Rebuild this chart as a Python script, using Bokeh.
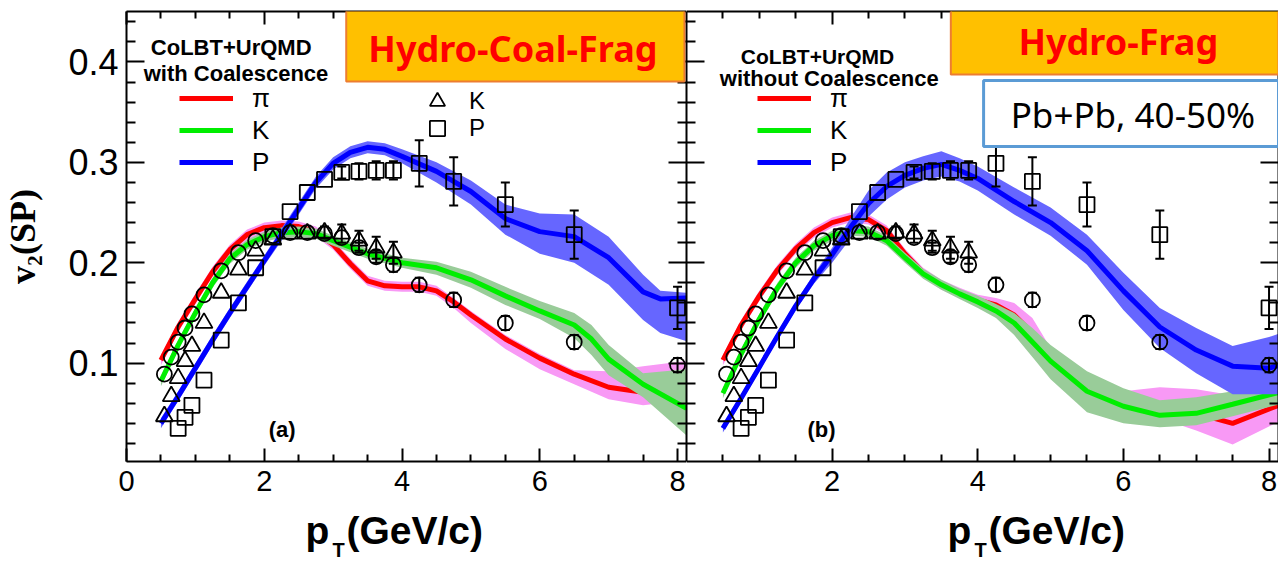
from bokeh.plotting import figure
from bokeh.layouts import row, column
from bokeh.models import (ColumnDataSource, Whisker, TeeHead, LinearAxis, FixedTicker,
                          Range1d, Label, BoxAnnotation, Legend, LegendItem)
from bokeh.embed import file_html
from bokeh.resources import INLINE

# ---------------- data (ALICE Pb+Pb 40-50%, v2{SP}) ----------------
pi_x = [0.55, 0.65, 0.75, 0.85, 0.95, 1.125, 1.375, 1.625, 1.875, 2.125, 2.375, 2.625, 2.875,
        3.125, 3.375, 3.625, 3.875, 4.25, 4.75, 5.5, 6.5, 8.0]
pi_v2 = [0.089, 0.106, 0.121, 0.135, 0.149, 0.168, 0.192, 0.210, 0.222, 0.227, 0.230, 0.230, 0.229,
         0.225, 0.215, 0.206, 0.198, 0.178, 0.163, 0.140, 0.121, 0.098]
pi_err = [0.002, 0.002, 0.002, 0.002, 0.002, 0.002, 0.002, 0.002, 0.002, 0.002, 0.003, 0.003, 0.003,
          0.004, 0.005, 0.006, 0.007, 0.007, 0.007, 0.007, 0.007, 0.007]

k_x = [0.55, 0.65, 0.75, 0.85, 0.95, 1.125, 1.375, 1.625, 1.875, 2.125, 2.375, 2.625, 2.875,
       3.125, 3.375, 3.625, 3.875]
k_v2 = [0.047, 0.067, 0.085, 0.102, 0.117, 0.140, 0.170, 0.193, 0.212, 0.223, 0.229, 0.229, 0.230,
        0.229, 0.222, 0.215, 0.210]
k_err = [0.002, 0.002, 0.002, 0.002, 0.002, 0.002, 0.002, 0.002, 0.002, 0.003, 0.003, 0.004, 0.006,
         0.009, 0.010, 0.011, 0.011]

p_x = [0.75, 0.85, 0.95, 1.125, 1.375, 1.625, 1.875, 2.125, 2.375, 2.625, 2.875, 3.125, 3.375,
       3.625, 3.875, 4.25, 4.75, 5.5, 6.5, 8.0]
p_v2 = [0.035, 0.046, 0.058, 0.083, 0.123, 0.160, 0.195, 0.226, 0.251, 0.270, 0.283, 0.290, 0.291,
        0.292, 0.292, 0.299, 0.281, 0.258, 0.228, 0.155]
p_err = [0.002, 0.002, 0.002, 0.002, 0.002, 0.002, 0.002, 0.003, 0.003, 0.003, 0.004, 0.006, 0.008,
         0.009, 0.009, 0.023, 0.024, 0.022, 0.024, 0.021]

# ---------------- CoLBT+UrQMD with coalescence (panel a) ----------------
a_pi_x = [0.5, 0.75, 1.0, 1.25, 1.5, 1.75, 2.0, 2.25, 2.5, 2.75, 3.0, 3.25, 3.5, 3.75, 4.0, 4.25,
          4.5, 4.75, 5.0, 5.5, 6.0, 6.5, 7.0, 7.5, 8.0, 8.13]
a_pi_y = [0.103, 0.136, 0.164, 0.191, 0.213, 0.228, 0.235, 0.237, 0.236, 0.231, 0.218, 0.199, 0.182,
          0.177, 0.176, 0.176, 0.172, 0.161, 0.148, 0.124, 0.105, 0.089, 0.076, 0.071, 0.078, 0.080]
a_pi_lo = [0.098, 0.131, 0.159, 0.186, 0.208, 0.223, 0.230, 0.232, 0.231, 0.226, 0.213, 0.194, 0.177,
           0.172, 0.171, 0.171, 0.167, 0.155, 0.140, 0.114, 0.094, 0.079, 0.064, 0.058, 0.062, 0.064]
a_pi_hi = [0.108, 0.141, 0.169, 0.196, 0.218, 0.233, 0.240, 0.242, 0.241, 0.236, 0.223, 0.204, 0.187,
           0.182, 0.181, 0.181, 0.177, 0.165, 0.152, 0.128, 0.109, 0.093, 0.092, 0.097, 0.101, 0.102]

a_k_x = [0.5, 0.75, 1.0, 1.25, 1.5, 1.75, 2.0, 2.25, 2.5, 2.75, 3.0, 3.5, 4.0, 4.5, 5.0, 5.5, 6.0,
         6.5, 6.75, 7.0, 7.5, 8.13]
a_k_y = [0.082, 0.118, 0.150, 0.180, 0.204, 0.218, 0.226, 0.230, 0.231, 0.229, 0.222, 0.209, 0.200,
         0.195, 0.183, 0.167, 0.152, 0.138, 0.124, 0.104, 0.079, 0.055]
a_k_lo = [0.077, 0.113, 0.145, 0.175, 0.199, 0.213, 0.221, 0.225, 0.226, 0.224, 0.217, 0.204, 0.195,
          0.188, 0.175, 0.158, 0.144, 0.125, 0.108, 0.088, 0.066, 0.028]
a_k_hi = [0.087, 0.123, 0.155, 0.185, 0.209, 0.223, 0.231, 0.235, 0.236, 0.234, 0.227, 0.214, 0.205,
          0.201, 0.191, 0.176, 0.162, 0.150, 0.138, 0.118, 0.090, 0.094]

a_p_x = [0.5, 0.75, 1.0, 1.25, 1.5, 1.75, 2.0, 2.25, 2.5, 2.75, 3.0, 3.25, 3.5, 3.75, 4.0, 4.5, 5.0,
         5.5, 6.0, 6.5, 7.0, 7.5, 7.75, 8.13]
a_p_y = [0.040, 0.067, 0.095, 0.123, 0.150, 0.176, 0.202, 0.228, 0.254, 0.280, 0.299, 0.310, 0.315,
         0.313, 0.306, 0.291, 0.271, 0.244, 0.231, 0.226, 0.205, 0.171, 0.164, 0.165]
a_p_lo = [0.035, 0.062, 0.090, 0.118, 0.145, 0.171, 0.197, 0.222, 0.248, 0.274, 0.293, 0.304, 0.309,
          0.307, 0.299, 0.280, 0.258, 0.228, 0.209, 0.200, 0.178, 0.143, 0.130, 0.122]
a_p_hi = [0.045, 0.072, 0.100, 0.128, 0.155, 0.181, 0.207, 0.234, 0.260, 0.286, 0.305, 0.316, 0.321,
          0.319, 0.313, 0.300, 0.282, 0.258, 0.249, 0.248, 0.226, 0.188, 0.172, 0.170]

# ---------------- CoLBT+UrQMD without coalescence (panel b) ----------------
b_x = [0.5, 0.75, 1.0, 1.25, 1.5, 1.75, 2.0, 2.25, 2.5, 2.75, 3.0, 3.25, 3.5, 3.75, 4.0, 4.25,
       4.5, 4.75, 5.0, 5.5, 6.0, 6.5, 7.0, 7.5, 8.2]
b_pi_y = [0.103, 0.138, 0.167, 0.193, 0.214, 0.230, 0.240, 0.245, 0.243, 0.232, 0.209, 0.190, 0.178,
          0.170, 0.163, 0.158, 0.148, 0.130, 0.108, 0.078, 0.064, 0.059, 0.050, 0.040, 0.060]
b_pi_lo = [0.098, 0.133, 0.162, 0.188, 0.209, 0.225, 0.235, 0.240, 0.238, 0.227, 0.204, 0.185, 0.173,
           0.165, 0.158, 0.150, 0.138, 0.120, 0.098, 0.068, 0.052, 0.045, 0.033, 0.019, 0.044]
b_pi_hi = [0.108, 0.143, 0.172, 0.198, 0.219, 0.235, 0.245, 0.250, 0.248, 0.237, 0.214, 0.195, 0.183,
           0.175, 0.168, 0.165, 0.160, 0.145, 0.115, 0.085, 0.072, 0.076, 0.074, 0.068, 0.070]
b_k_y = [0.070, 0.109, 0.144, 0.175, 0.200, 0.217, 0.227, 0.232, 0.231, 0.222, 0.205, 0.189, 0.178,
         0.169, 0.161, 0.152, 0.140, 0.121, 0.102, 0.072, 0.057, 0.048, 0.050, 0.059, 0.072]
b_k_lo = [0.065, 0.104, 0.139, 0.170, 0.195, 0.212, 0.222, 0.227, 0.226, 0.217, 0.200, 0.184, 0.173,
          0.164, 0.155, 0.145, 0.128, 0.106, 0.084, 0.051, 0.040, 0.036, 0.038, 0.047, 0.060]
b_k_hi = [0.075, 0.114, 0.149, 0.180, 0.205, 0.222, 0.232, 0.237, 0.236, 0.227, 0.210, 0.194, 0.183,
          0.174, 0.167, 0.159, 0.150, 0.135, 0.118, 0.092, 0.075, 0.063, 0.066, 0.072, 0.082]

b_p_x = [0.5, 0.75, 1.0, 1.25, 1.5, 1.75, 2.0, 2.25, 2.5, 2.75, 3.0, 3.25, 3.5, 3.75, 4.0, 4.5, 5.0,
         5.5, 6.0, 6.5, 7.0, 7.5, 8.0, 8.2]
b_p_y = [0.035, 0.065, 0.096, 0.127, 0.157, 0.184, 0.208, 0.235, 0.259, 0.276, 0.287, 0.294, 0.298,
         0.292, 0.284, 0.261, 0.240, 0.212, 0.172, 0.136, 0.113, 0.097, 0.095, 0.099]
b_p_lo = [0.031, 0.061, 0.092, 0.123, 0.153, 0.179, 0.200, 0.224, 0.246, 0.263, 0.275, 0.282, 0.286,
          0.281, 0.272, 0.248, 0.227, 0.198, 0.153, 0.115, 0.090, 0.069, 0.069, 0.069]
b_p_hi = [0.039, 0.069, 0.100, 0.131, 0.161, 0.189, 0.215, 0.244, 0.272, 0.290, 0.300, 0.306, 0.311,
          0.304, 0.296, 0.275, 0.255, 0.228, 0.190, 0.155, 0.135, 0.117, 0.126, 0.131]

# ---------------- axes ----------------
x_ticks_a = [0, 2, 4, 6, 8]
x_ticks_b = [2, 4, 6, 8]
x_minor = [0.5, 1, 1.5, 2.5, 3, 3.5, 4.5, 5, 5.5, 6.5, 7, 7.5, 8.5]
y_ticks = [0.1, 0.2, 0.3, 0.4]
y_minor = [0.02, 0.04, 0.06, 0.08, 0.12, 0.14, 0.16, 0.18, 0.22, 0.24, 0.26, 0.28,
           0.32, 0.34, 0.36, 0.38, 0.42, 0.44]

RED, GREEN, BLUE = "#FF0000", "#00EE00", "#0000FF"
PINK, SAGE, LBLUE = "#F899F5", "#99CC99", "#6666FF"
SANS = "Liberation Sans"
H = 501
ERR_VISIBLE = 0.005   # error bars smaller than this are hidden inside the markers


def style_axis(ax, is_x, labels=True, size="29px", ticks=None):
    ax.axis_line_width = 2
    ax.axis_line_color = "black"
    ax.major_tick_line_width = 2
    ax.minor_tick_line_width = 2
    ax.major_tick_out = 0
    ax.minor_tick_out = 0
    if is_x:
        ax.major_tick_in = 13
        ax.minor_tick_in = 7
    else:
        ax.major_tick_in = 18
        ax.minor_tick_in = 9
    if labels:
        ax.major_label_text_font = SANS
        ax.major_label_text_font_size = size
        ax.major_label_text_color = "black"
    else:
        ax.major_label_overrides = {float(t): "" for t in ticks}
        ax.major_label_text_font_size = "0px"
        ax.major_label_standoff = 0


def make_panel(width, xmax, xticks, left_border, curves, panel_tag, tag_x):
    p = figure(width=width, height=H, output_backend="svg", toolbar_location=None,
               x_range=Range1d(0, xmax), y_range=Range1d(0.002, 0.4503),
               min_border_left=left_border, min_border_right=0, min_border_top=11,
               min_border_bottom=40, background_fill_color="white",
               border_fill_color="white")
    p.grid.visible = False
    p.outline_line_color = None

    p.xaxis.ticker = FixedTicker(ticks=xticks, minor_ticks=x_minor)
    p.yaxis.ticker = FixedTicker(ticks=y_ticks, minor_ticks=y_minor)
    style_axis(p.xaxis[0], True, True, "29px")
    p.xaxis[0].major_label_standoff = 9
    if left_border > 0:
        style_axis(p.yaxis[0], False, True, "36px")
        p.yaxis[0].major_label_standoff = 8
    else:
        style_axis(p.yaxis[0], False, False, ticks=y_ticks)

    top = LinearAxis(ticker=FixedTicker(ticks=xticks, minor_ticks=x_minor))
    style_axis(top, True, False, ticks=xticks)
    p.add_layout(top, "above")
    right = LinearAxis(ticker=FixedTicker(ticks=y_ticks, minor_ticks=y_minor))
    style_axis(right, False, False, ticks=y_ticks)
    p.add_layout(right, "right")

    (pix, piy, pilo, pihi), (kx, ky, klo, khi), (px_, py_, plo, phi) = curves
    p.varea(x=pix, y1=pilo, y2=pihi, fill_color=PINK)
    r_pi = p.line(pix, piy, line_color=RED, line_width=5)
    p.varea(x=kx, y1=klo, y2=khi, fill_color=SAGE)
    r_k = p.line(kx, ky, line_color=GREEN, line_width=5)
    p.varea(x=px_, y1=plo, y2=phi, fill_color=LBLUE)
    r_p = p.line(px_, py_, line_color=BLUE, line_width=5)

    markers = {}
    for name, xs, ys, es, mk, sz in [("pi", pi_x, pi_v2, pi_err, "circle", 15),
                                     ("K", k_x, k_v2, k_err, "triangle", 17),
                                     ("P", p_x, p_v2, p_err, "square", 15)]:
        sel = [i for i, e in enumerate(es) if e >= ERR_VISIBLE]
        esrc = ColumnDataSource(dict(x=[xs[i] for i in sel],
                                     lo=[ys[i] - es[i] for i in sel],
                                     hi=[ys[i] + es[i] for i in sel]))
        p.add_layout(Whisker(source=esrc, base="x", lower="lo", upper="hi",
                             line_color="black", line_width=2, level="glyph",
                             upper_head=TeeHead(size=9, line_width=2, line_color="black"),
                             lower_head=TeeHead(size=9, line_width=2, line_color="black")))
        src = ColumnDataSource(dict(x=xs, y=ys))
        markers[name] = p.scatter("x", "y", source=src, marker=mk, size=sz,
                                  fill_color=None, line_color="black", line_width=1.8)

    p.add_layout(Label(x=tag_x, y=0.0336, text=panel_tag, text_font=SANS,
                       text_font_size="22px", text_font_style="bold", text_color="black",
                       text_align="center", text_baseline="alphabetic"))
    return p, (r_pi, r_k, r_p), markers


def legend_box(items, loc, gw, gh, standoff, fsize):
    return Legend(items=items, location=loc, orientation="vertical",
                  glyph_width=gw, glyph_height=gh, label_height=gh, spacing=0,
                  padding=0, margin=0, label_standoff=standoff, label_text_font=SANS,
                  label_text_font_size=fsize, label_text_color="black",
                  label_text_baseline="middle",
                  background_fill_alpha=0, border_line_alpha=0)


def line_legend(p, rends, xloc):
    items = [LegendItem(label=t, renderers=[r]) for t, r in zip(["π", "K", "P"], rends)]
    p.add_layout(legend_box(items, (xloc, 283), 54, 32, 19, "26px"))


def text(p, x, y, s, size, bold=True, color="black", font=SANS, align="center"):
    p.add_layout(Label(x=x, y=y, text=s, text_font=font, text_font_size=size,
                       text_font_style=("bold" if bold else "normal"), text_color=color,
                       text_align=align, text_baseline="alphabetic"))


# ---------------- panel (a) ----------------
pa, ra, ma = make_panel(686, 8.13, x_ticks_a, 126,
                        [(a_pi_x, a_pi_y, a_pi_lo, a_pi_hi), (a_k_x, a_k_y, a_k_lo, a_k_hi),
                         (a_p_x, a_p_y, a_p_lo, a_p_hi)], "(a)", 2.26)
pa.yaxis[0].axis_label = "v₂(SP)"
pa.yaxis[0].axis_label_text_font = "Liberation Serif"
pa.yaxis[0].axis_label_text_font_style = "bold"
pa.yaxis[0].axis_label_text_font_size = "36px"
pa.yaxis[0].axis_label_text_color = "black"
pa.yaxis[0].axis_label_standoff = 22
line_legend(pa, ra, 53)
pa.add_layout(legend_box([LegendItem(label="K", renderers=[ma["K"]])], (292, 341), 38, 38, 13, "24px"))
pa.add_layout(legend_box([LegendItem(label="P", renderers=[ma["P"]])], (292, 314), 38, 38, 13, "24px"))
text(pa, 1.52, 0.4145, "CoLBT+UrQMD", "22px")
text(pa, 1.59, 0.3886, "with Coalescence", "22px")
pa.add_layout(BoxAnnotation(left=3.19, right=8.10, bottom=0.3805, top=0.4513,
                            fill_color="#FFC000", fill_alpha=1, line_color="#ED7D31",
                            line_width=2, line_alpha=1))
text(pa, 5.61, 0.4135, "Hydro-Coal-Frag", "36px", color="#FF0000", font="Noto Sans")

# ---------------- panel (b) ----------------
pb, rb, mb = make_panel(592, 8.13, x_ticks_b, 0,
                        [(b_x, b_pi_y, b_pi_lo, b_pi_hi), (b_x, b_k_y, b_k_lo, b_k_hi),
                         (b_p_x, b_p_y, b_p_lo, b_p_hi)], "(b)", 1.855)
line_legend(pb, rb, 71)
text(pb, 1.80, 0.4055, "CoLBT+UrQMD", "21px")
text(pb, 1.96, 0.3836, "without Coalescence", "22px")
pb.add_layout(BoxAnnotation(left=3.63, bottom=0.3875, top=0.4573, fill_color="#FFC000",
                            fill_alpha=1, line_color="#ED7D31", line_width=2, line_alpha=1))
text(pb, 5.93, 0.4205, "Hydro-Frag", "36px", color="#FF0000", font="Noto Sans")
pb.add_layout(BoxAnnotation(left=4.08, bottom=0.3158, top=0.3815, fill_color="white",
                            fill_alpha=1, line_color="#5B9BD5", line_width=3, line_alpha=1))
text(pb, 6.13, 0.3477, "Pb+Pb, 40-50%", "35px", bold=False, font="Noto Sans")

# ---------------- x-axis titles (strip below both panels, pixel coordinates) ----------------
strip = figure(width=1278, height=60, output_backend="svg", toolbar_location=None,
               title=None, x_range=Range1d(0, 1278), y_range=Range1d(0, 60),
               x_axis_type=None, y_axis_type=None, min_border=0,
               background_fill_color="white", border_fill_color="white")
strip.grid.visible = False
strip.outline_line_color = None
for xp, xt, xg in [(305, 332, 346), (947, 974, 988)]:
    text(strip, xp, 31, "p", "39px", align="left")
    text(strip, xt, 12, "T", "20px", align="left")
    text(strip, xg, 31, "(GeV/c)", "39px", align="left")

layout = column(row(pa, pb), strip)
open("out.html", "w").write(file_html(layout, INLINE))
